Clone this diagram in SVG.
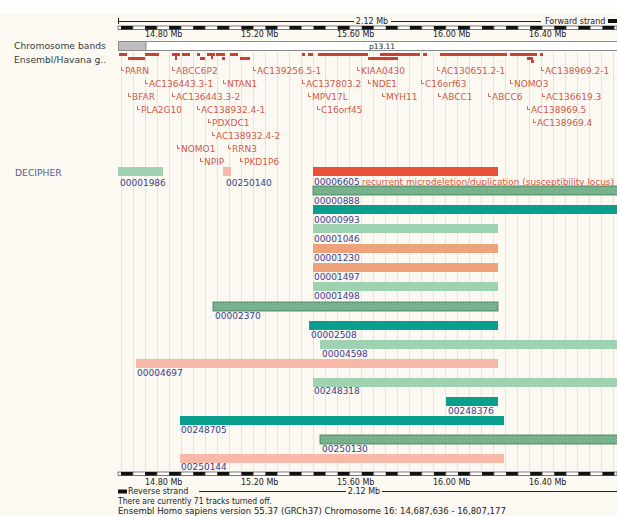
<svg xmlns="http://www.w3.org/2000/svg" width="617" height="516" viewBox="0 0 617 516">
<defs>
<style>
text{font-family:"DejaVu Sans","Liberation Sans",sans-serif;}
.lbl{font-size:9.2px;fill:#3a3a3a;}
.tick{font-size:8px;fill:#222;}
.gene{font-size:9px;fill:#cf5a48;}
.hook{fill:none;stroke:#cf5a48;stroke-width:0.9;}
.id{font-size:9px;fill:#3c3c8e;}
.dec{font-size:9.2px;fill:#55608e;}
.lg{fill:#9fd2b0;}
.teal{fill:#0a9e8c;}
.org{fill:#eea27a;}
.pink{fill:#f7b8a7;}
.red{fill:#ea4f37;}
.hatch{fill:url(#hp);stroke:#3f7a56;stroke-width:0.8;}
.gbar{fill:#c9412f;}
</style>
<pattern id="ticks" patternUnits="userSpaceOnUse" x="120.98" y="0" width="24.07" height="600">
<rect x="0" y="0" width="12.035" height="600" fill="#111"/>
</pattern>
<pattern id="hp" patternUnits="userSpaceOnUse" width="3" height="3">
<rect width="3" height="3" fill="#6aa882"/>
<path d="M0 3L3 0M0 0L3 3" stroke="#8fc3a2" stroke-width="0.6"/>
</pattern>
</defs>
<rect width="617" height="516" fill="#fcf9f2"/>
<rect width="617" height="14" fill="#fefefc"/>

<g id="grid" stroke="#e9e2d6" stroke-width="1">
<path d="M121.5 52V470M133.5 52V470M145.5 52V470M157.5 52V470M169.5 52V470M181.5 52V470M193.5 52V470M205.5 52V470M217.5 52V470M229.5 52V470M241.5 52V470M253.5 52V470M265.5 52V470M277.5 52V470M289.5 52V470M301.5 52V470M313.5 52V470M325.5 52V470M337.5 52V470M349.5 52V470M361.5 52V470M373.5 52V470M385.5 52V470M397.5 52V470M409.5 52V470M421.5 52V470M433.5 52V470M445.5 52V470M457.5 52V470M469.5 52V470M481.5 52V470M493.5 52V470M505.5 52V470M517.5 52V470M529.5 52V470M541.5 52V470M553.5 52V470M565.5 52V470M577.5 52V470M589.5 52V470M601.5 52V470M613.5 52V470"/>
</g>

<g id="top-ruler">
<path d="M118 21.5H354M391 21.5H541" stroke="#222" stroke-width="1"/>
<path d="M118.5 18V24" stroke="#222" stroke-width="1"/>
<text x="372" y="24" class="tick" text-anchor="middle">2.12 Mb</text>
<text x="545" y="24" class="tick">Forward strand</text>
<rect x="608" y="19" width="9" height="4" fill="#111"/>
<rect x="118" y="26" width="499" height="3.5" fill="#fff" stroke="#222" stroke-width="0.6"/>
<rect x="118" y="26" width="499" height="3.5" fill="url(#ticks)"/>
<text x="145" y="37" class="tick">14.80 Mb</text>
<text x="241" y="37" class="tick">15.20 Mb</text>
<text x="337" y="37" class="tick">15.60 Mb</text>
<text x="433" y="37" class="tick">16.00 Mb</text>
<text x="529" y="37" class="tick">16.40 Mb</text>
</g>

<g id="chromosome-bands">
<text x="14" y="49" class="lbl">Chromosome bands</text>
<rect x="118.5" y="41.5" width="500" height="9" fill="#fff" stroke="#8a8a8a" stroke-width="1"/>
<rect x="118.5" y="41.5" width="27.5" height="9" fill="#bdbdbd" stroke="#8a8a8a" stroke-width="1"/>
<text x="382" y="49" class="tick" text-anchor="middle" style="font-size:7.5px">p13.11</text>
</g>

<g id="ensembl-genes">
<text x="14" y="63" class="lbl">Ensembl/Havana g..</text>
<rect class="gbar" x="119" y="53" width="8" height="3"/>
<rect class="gbar" x="128" y="57" width="17" height="3"/>
<rect class="gbar" x="145" y="53" width="14" height="3"/>
<rect class="gbar" x="172" y="53" width="8" height="3"/>
<rect class="gbar" x="175" y="56" width="2" height="4"/>
<rect class="gbar" x="182" y="53" width="8" height="3"/>
<rect class="gbar" x="197" y="53" width="3" height="3"/>
<rect class="gbar" x="200" y="57" width="5" height="3"/>
<rect class="gbar" x="207" y="53" width="8" height="3"/>
<rect class="gbar" x="211" y="56" width="2" height="3"/>
<rect class="gbar" x="216" y="53" width="9" height="3"/>
<rect class="gbar" x="222" y="57" width="3" height="3"/>
<rect class="gbar" x="230" y="53" width="8" height="3"/>
<rect class="gbar" x="240" y="57" width="10" height="3"/>
<rect class="gbar" x="302" y="53" width="3" height="3"/>
<rect class="gbar" x="308" y="53" width="5" height="3"/>
<rect class="gbar" x="318" y="53" width="50" height="3"/>
<rect class="gbar" x="368" y="57" width="30" height="3"/>
<rect class="gbar" x="380" y="53" width="40" height="3"/>
<rect class="gbar" x="423" y="53" width="4" height="3"/>
<rect class="gbar" x="440" y="53" width="2" height="3"/>
<rect class="gbar" x="442" y="53" width="65" height="3"/>
<rect class="gbar" x="510" y="53" width="17" height="3"/>
<rect class="gbar" x="527" y="53" width="10" height="3"/>
<rect class="gbar" x="527" y="57" width="6" height="3"/>
<rect class="gbar" x="531" y="60" width="3" height="3"/>
<rect class="gbar" x="540" y="53" width="3" height="3"/>
<path class="hook" d="M121.5 67V70.5H124M172.5 67V70.5H175M253.5 67V70.5H256M357.5 67V70.5H360M437.5 67V70.5H440M541.5 67V70.5H544M145.5 80V83.5H148M223.5 80V83.5H226M302.5 80V83.5H305M368.5 80V83.5H371M421.5 80V83.5H424M510.5 80V83.5H513M128.5 93V96.5H131M172.5 93V96.5H175M308.5 93V96.5H311M382.5 93V96.5H385M438.5 93V96.5H441M488.5 93V96.5H491M542.5 93V96.5H545M137.5 106V109.5H140M197.5 106V109.5H200M317.5 106V109.5H320M527.5 106V109.5H530M208.5 119V122.5H211M533.5 119V122.5H536M212.5 132V135.5H215M177.5 145V148.5H180M228.5 145V148.5H231M200.5 158V161.5H203M240.5 158V161.5H243"/>
<text class="gene" x="125" y="74">PARN</text>
<text class="gene" x="176" y="74">ABCC6P2</text>
<text class="gene" x="257" y="74">AC139256.5-1</text>
<text class="gene" x="361" y="74">KIAA0430</text>
<text class="gene" x="441" y="74">AC130651.2-1</text>
<text class="gene" x="545" y="74">AC138969.2-1</text>
<text class="gene" x="149" y="87">AC136443.3-1</text>
<text class="gene" x="227" y="87">NTAN1</text>
<text class="gene" x="306" y="87">AC137803.2</text>
<text class="gene" x="372" y="87">NDE1</text>
<text class="gene" x="425" y="87">C16orf63</text>
<text class="gene" x="514" y="87">NOMO3</text>
<text class="gene" x="132" y="100">BFAR</text>
<text class="gene" x="176" y="100">AC136443.3-2</text>
<text class="gene" x="312" y="100">MPV17L</text>
<text class="gene" x="386" y="100">MYH11</text>
<text class="gene" x="442" y="100">ABCC1</text>
<text class="gene" x="492" y="100">ABCC6</text>
<text class="gene" x="546" y="100">AC136619.3</text>
<text class="gene" x="141" y="113">PLA2G10</text>
<text class="gene" x="201" y="113">AC138932.4-1</text>
<text class="gene" x="321" y="113">C16orf45</text>
<text class="gene" x="531" y="113">AC138969.5</text>
<text class="gene" x="212" y="126">PDXDC1</text>
<text class="gene" x="537" y="126">AC138969.4</text>
<text class="gene" x="216" y="139">AC138932.4-2</text>
<text class="gene" x="181" y="152">NOMO1</text>
<text class="gene" x="232" y="152">RRN3</text>
<text class="gene" x="204" y="165">NPIP</text>
<text class="gene" x="244" y="165">PKD1P6</text>
</g>

<g id="decipher">
<text x="15" y="176" class="dec">DECIPHER</text>
</g>
<g id="d00001986"><rect class="lg" x="118" y="167" width="45" height="9"/><text class="id" x="120" y="186">00001986</text></g>
<g id="d00250140"><rect class="pink" x="223" y="167" width="8" height="9"/><text class="id" x="226" y="186">00250140</text></g>
<g id="d00006605"><rect class="red" x="313" y="167" width="185" height="9"/><text class="id" x="314" y="185">00006605</text><text x="362" y="185" style="font-size:9px;fill:#d8553f" textLength="252" lengthAdjust="spacingAndGlyphs">recurrent microdeletion/duplication (susceptibility locus)</text></g>
<g id="d00000888"><rect class="hatch" x="313" y="186" width="305" height="9"/><text class="id" x="314" y="204">00000888</text></g>
<g id="d00000993"><rect class="teal" x="313" y="205" width="304" height="9"/><text class="id" x="314" y="223">00000993</text></g>
<g id="d00001046"><rect class="lg" x="313" y="224" width="185" height="9"/><text class="id" x="314" y="242">00001046</text></g>
<g id="d00001230"><rect class="org" x="313" y="244" width="185" height="9"/><text class="id" x="314" y="261">00001230</text></g>
<g id="d00001497"><rect class="org" x="313" y="263" width="185" height="9"/><text class="id" x="314" y="280">00001497</text></g>
<g id="d00001498"><rect class="lg" x="313" y="282" width="185" height="9"/><text class="id" x="314" y="299">00001498</text></g>
<g id="d00002370"><rect class="hatch" x="213" y="302" width="285" height="9"/><text class="id" x="215" y="319">00002370</text></g>
<g id="d00002508"><rect class="teal" x="309" y="321" width="189" height="9"/><text class="id" x="311" y="338">00002508</text></g>
<g id="d00004598"><rect class="lg" x="320" y="340" width="297" height="9"/><text class="id" x="322" y="357">00004598</text></g>
<g id="d00004697"><rect class="pink" x="136" y="359" width="362" height="9"/><text class="id" x="137" y="376">00004697</text></g>
<g id="d00248318"><rect class="lg" x="313" y="378" width="304" height="9"/><text class="id" x="314" y="394">00248318</text></g>
<g id="d00248376"><rect class="teal" x="446" y="397" width="52" height="9"/><text class="id" x="448" y="414">00248376</text></g>
<g id="d00248705"><rect class="teal" x="180" y="416" width="324" height="9"/><text class="id" x="181" y="433">00248705</text></g>
<g id="d00250130"><rect class="hatch" x="320" y="435" width="298" height="9"/><text class="id" x="322" y="452">00250130</text></g>
<g id="d00250144"><rect class="pink" x="180" y="454" width="324" height="9"/><text class="id" x="181" y="470">00250144</text></g>

<g id="bottom-ruler">
<rect x="118" y="472" width="499" height="3.5" fill="#fff" stroke="#222" stroke-width="0.6"/>
<rect x="118" y="472" width="499" height="3.5" fill="url(#ticks)"/>
<text x="145" y="485" class="tick">14.80 Mb</text>
<text x="241" y="485" class="tick">15.20 Mb</text>
<text x="337" y="485" class="tick">15.60 Mb</text>
<text x="433" y="485" class="tick">16.00 Mb</text>
<text x="529" y="485" class="tick">16.40 Mb</text>
<rect x="118" y="489.5" width="9" height="4" fill="#111"/>
<text x="128" y="494" class="tick">Reverse strand</text>
<path d="M199 491.5H346M382 491.5H617" stroke="#222" stroke-width="1"/>
<text x="364" y="494" class="tick" text-anchor="middle">2.12 Mb</text>
<text x="118" y="504" style="font-size:8.5px;fill:#222" textLength="154" lengthAdjust="spacingAndGlyphs">There are currently 71 tracks turned off.</text>
<text x="118" y="514" style="font-size:8.5px;fill:#222">Ensembl Homo sapiens version 55.37 (GRCh37) Chromosome 16: 14,687,636 - 16,807,177</text>
</g>
</svg>
